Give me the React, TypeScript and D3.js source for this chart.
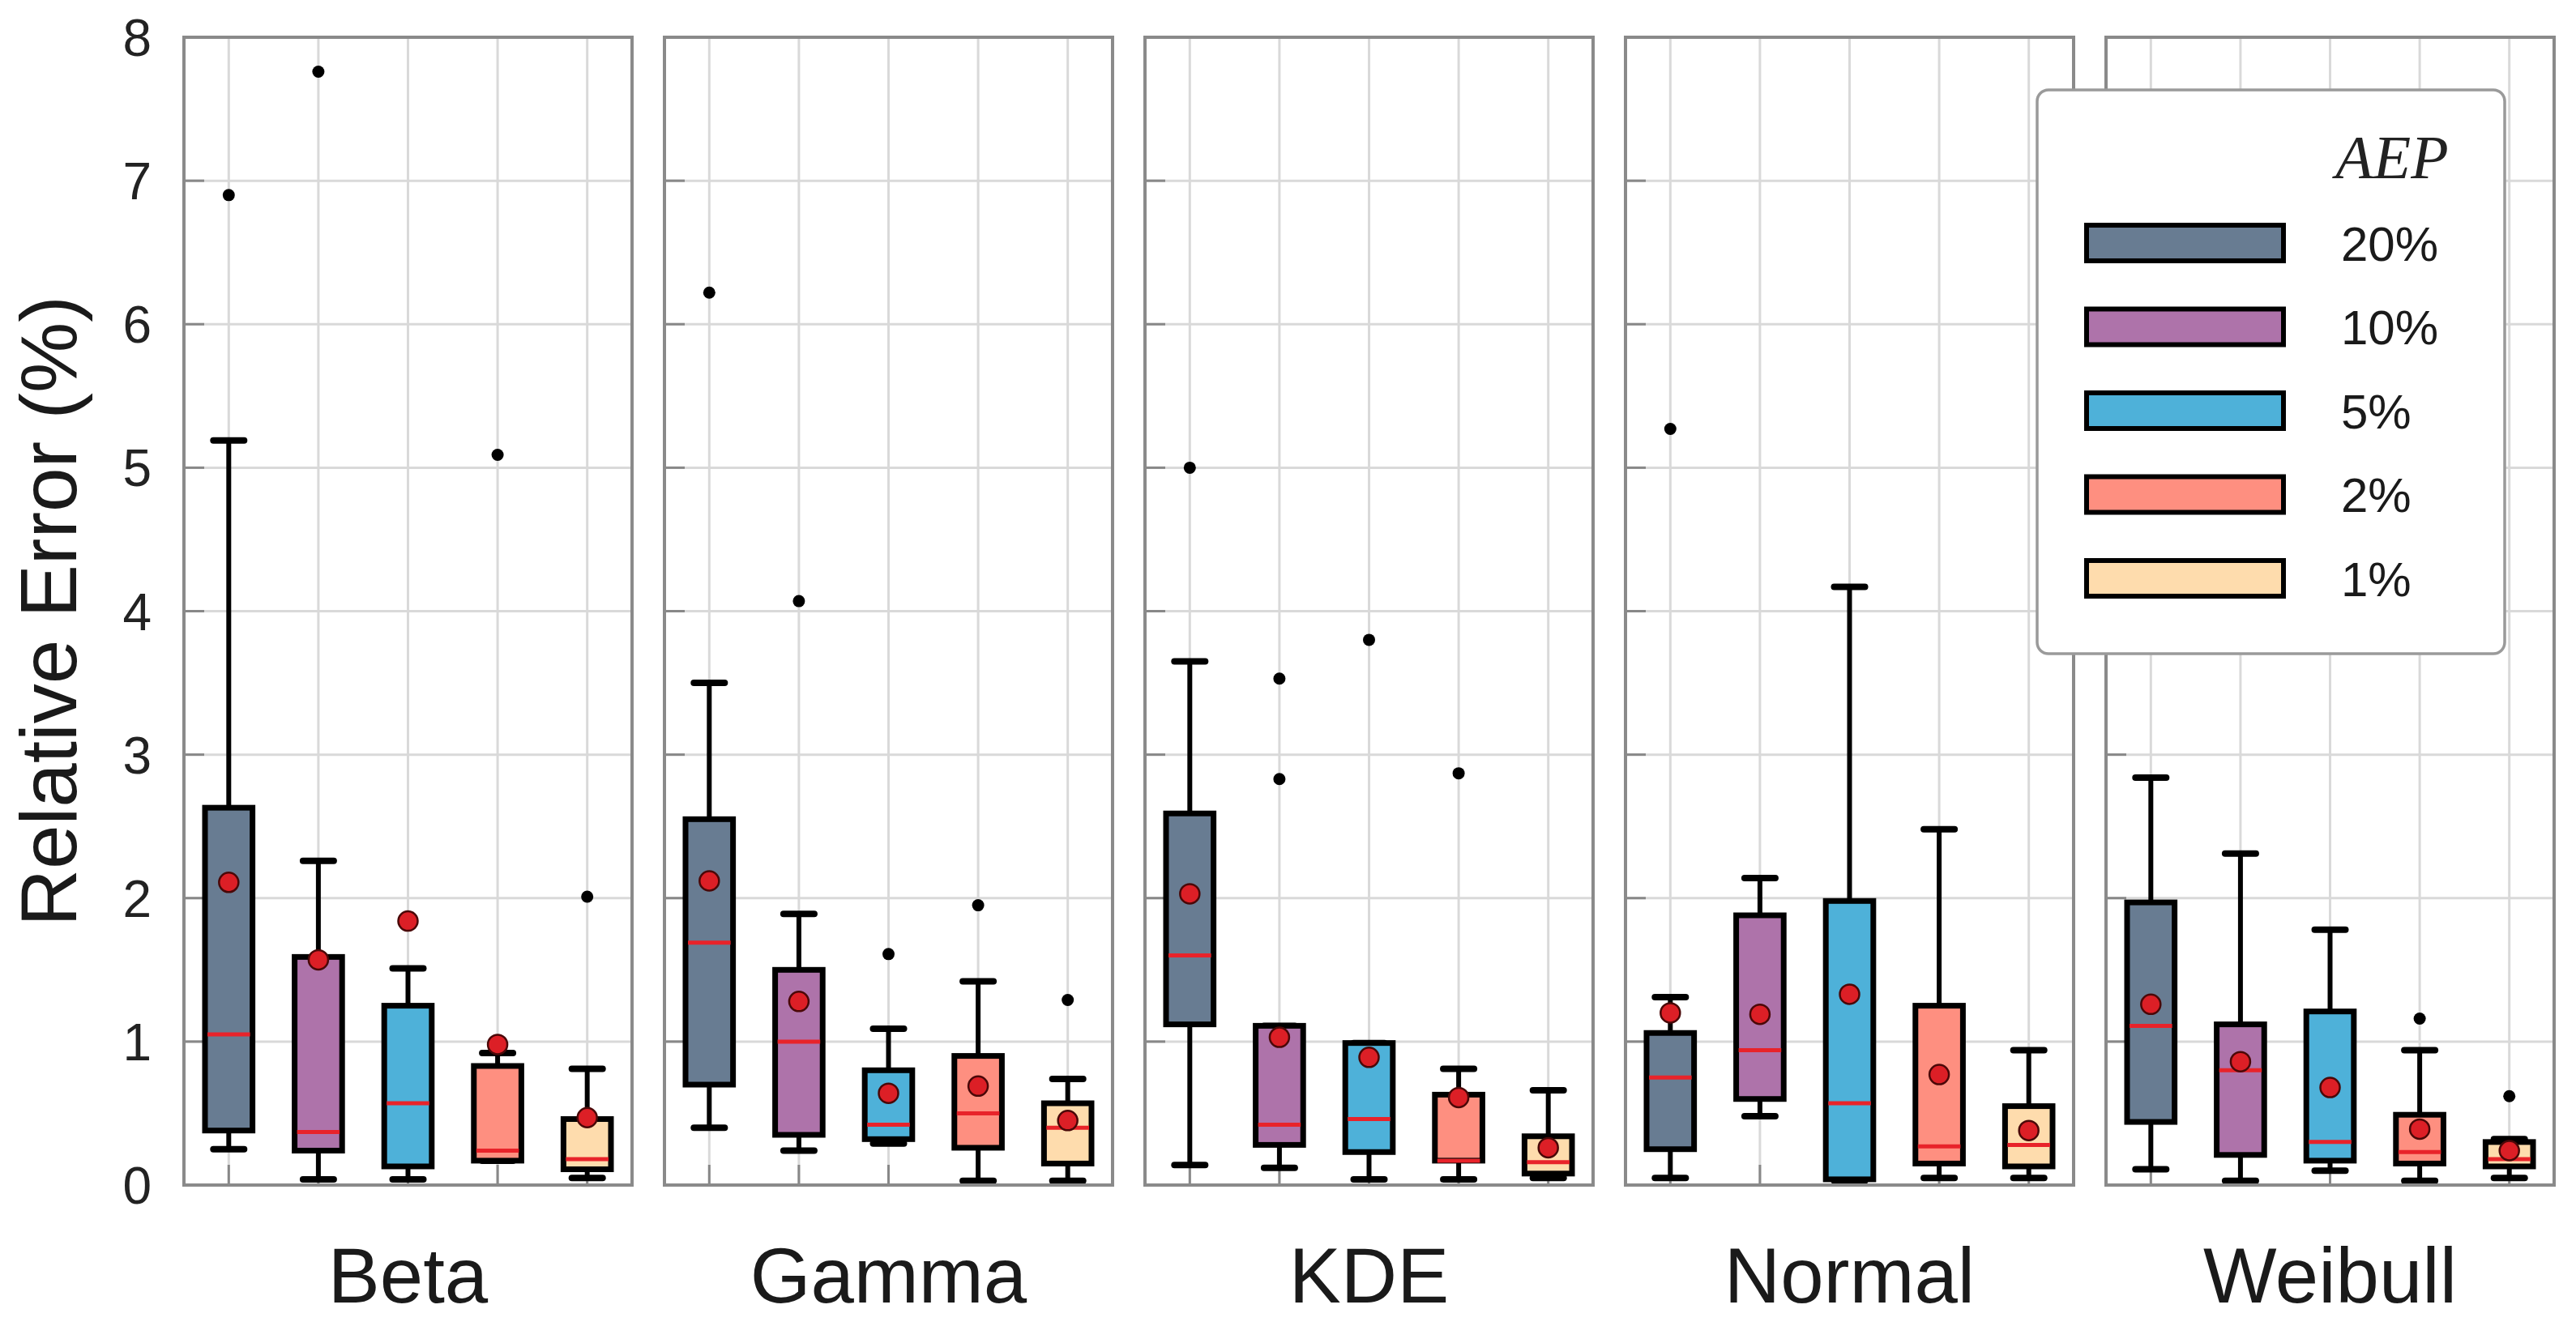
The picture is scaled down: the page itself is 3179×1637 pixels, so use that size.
import React from "react";
import * as d3 from "d3";

// relative error boxplots per fitted distribution, one box per AEP level

const categories = ["Beta", "Gamma", "KDE", "Normal", "Weibull"];
const aepLevels = ["20%", "10%", "5%", "2%", "1%"];
const yTicks = [0, 1, 2, 3, 4, 5, 6, 7, 8];

// rows = categories, columns = aepLevels
const q1 = [
  [0.38, 0.24, 0.13, 0.17, 0.11],
  [0.7, 0.35, 0.32, 0.26, 0.15],
  [1.12, 0.28, 0.23, 0.17, 0.08],
  [0.25, 0.6, 0.04, 0.15, 0.13],
  [0.44, 0.21, 0.17, 0.15, 0.13],
];
const medians = [
  [1.05, 0.37, 0.57, 0.24, 0.18],
  [1.69, 1.0, 0.42, 0.5, 0.4],
  [1.6, 0.42, 0.46, 0.17, 0.16],
  [0.75, 0.94, 0.57, 0.27, 0.28],
  [1.11, 0.8, 0.3, 0.23, 0.18],
];
const q3 = [
  [2.63, 1.59, 1.25, 0.83, 0.46],
  [2.55, 1.5, 0.8, 0.9, 0.57],
  [2.59, 1.11, 0.99, 0.63, 0.34],
  [1.06, 1.88, 1.98, 1.25, 0.55],
  [1.97, 1.12, 1.21, 0.49, 0.3],
];
const whiskerLow = [
  [0.25, 0.04, 0.04, 0.17, 0.05],
  [0.4, 0.24, 0.29, 0.03, 0.03],
  [0.14, 0.12, 0.04, 0.04, 0.05],
  [0.05, 0.48, 0.03, 0.05, 0.05],
  [0.11, 0.03, 0.1, 0.03, 0.05],
];
const whiskerHigh = [
  [5.19, 2.26, 1.51, 0.92, 0.81],
  [3.5, 1.89, 1.09, 1.42, 0.74],
  [3.65, 1.11, 0.99, 0.81, 0.66],
  [1.31, 2.14, 4.17, 2.48, 0.94],
  [2.84, 2.31, 1.78, 0.94, 0.32],
];
const means = [
  [2.11, 1.57, 1.84, 0.98, 0.47],
  [2.12, 1.28, 0.64, 0.69, 0.45],
  [2.03, 1.03, 0.89, 0.61, 0.26],
  [1.2, 1.19, 1.33, 0.77, 0.38],
  [1.26, 0.86, 0.68, 0.39, 0.24],
];
const outliers = [
  [[6.9], [7.76], [], [5.09], [2.01]],
  [[6.22], [4.07], [1.61], [1.95], [1.29]],
  [[5.0], [3.53, 2.83], [3.8], [2.87], []],
  [[5.27], [], [], [], []],
  [[], [], [], [1.16], [0.62]],
];

const colors = ["#687c92", "#ae73aa", "#4eb1d9", "#fe8f80", "#fedcad"];

const FONT = "'Liberation Sans', Arial, Helvetica, sans-serif";

const App: React.FC = () => {
  const width = 3179;
  const height = 1637;
  const marginLeft = 227;
  const marginRight = 27;
  const marginTop = 46;
  const plotBottom = 1463;

  const panel = d3
    .scaleBand<string>()
    .domain(categories)
    .range([marginLeft, width - marginRight])
    .paddingInner(0.0675)
    .paddingOuter(0);
  const pw = panel.bandwidth();

  const inner = d3
    .scaleBand<string>()
    .domain(aepLevels)
    .range([0, pw])
    .paddingInner(0.47)
    .paddingOuter(0.235);
  const bw = inner.bandwidth();
  const capW = 38;

  const y = d3.scaleLinear([0, 8], [plotBottom, marginTop]);

  // legend layout
  const lgX = 2514, lgY = 111, lgW = 577, lgH = 696;
  const lgRow = d3.scalePoint<string>().domain(aepLevels).range([300, 714]);

  return (
    <svg
      width={width}
      height={height}
      style={{ position: "absolute", left: 0, top: 0, background: "#fff" }}
      fontFamily={FONT}
    >
      {categories.map((cat, ci) => {
        const px = panel(cat)!;
        return (
          <g key={cat} transform={`translate(${px},0)`}>
            {/* grid */}
            {yTicks.slice(1, -1).map((t) => (
              <line key={t} x1={0} x2={pw} y1={y(t)} y2={y(t)} stroke="#d9d9d9" strokeWidth={3} />
            ))}
            {aepLevels.map((a) => {
              const cx = inner(a)! + bw / 2;
              return <line key={a} x1={cx} x2={cx} y1={marginTop} y2={plotBottom} stroke="#d9d9d9" strokeWidth={3} />;
            })}
            {/* inward ticks */}
            {yTicks.slice(1, -1).map((t) => (
              <line key={"yt" + t} x1={0} x2={25} y1={y(t)} y2={y(t)} stroke="#888" strokeWidth={3} />
            ))}
            {aepLevels.map((a) => {
              const cx = inner(a)! + bw / 2;
              return <line key={"xt" + a} x1={cx} x2={cx} y1={plotBottom} y2={plotBottom - 25} stroke="#888" strokeWidth={3} />;
            })}

            {/* boxes */}
            {aepLevels.map((a, ai) => {
              const bx = inner(a)!;
              const cx = bx + bw / 2;
              return (
                <g key={"b" + a}>
                  <line x1={cx} x2={cx} y1={y(whiskerLow[ci][ai])} y2={y(q1[ci][ai])} stroke="#000" strokeWidth={6} />
                  <line x1={cx} x2={cx} y1={y(q3[ci][ai])} y2={y(whiskerHigh[ci][ai])} stroke="#000" strokeWidth={6} />
                  <line x1={cx - capW / 2} x2={cx + capW / 2} y1={y(whiskerLow[ci][ai])} y2={y(whiskerLow[ci][ai])} stroke="#000" strokeWidth={8} strokeLinecap="round" />
                  <line x1={cx - capW / 2} x2={cx + capW / 2} y1={y(whiskerHigh[ci][ai])} y2={y(whiskerHigh[ci][ai])} stroke="#000" strokeWidth={8} strokeLinecap="round" />
                  <rect
                    x={bx}
                    y={y(q3[ci][ai])}
                    width={bw}
                    height={y(q1[ci][ai]) - y(q3[ci][ai])}
                    fill={colors[ai]}
                    stroke="#000"
                    strokeWidth={7}
                  />
                  <line x1={bx + 3} x2={bx + bw - 3} y1={y(medians[ci][ai])} y2={y(medians[ci][ai])} stroke="#e8232a" strokeWidth={5} />
                  <circle cx={cx} cy={y(means[ci][ai])} r={12} fill="#dc1f26" stroke="#4a0808" strokeWidth={2.5} />
                  {outliers[ci][ai].map((o, oi) => (
                    <circle key={oi} cx={cx} cy={y(o)} r={7.5} fill="#000" />
                  ))}
                </g>
              );
            })}

            {/* frame */}
            <rect x={0} y={marginTop} width={pw} height={plotBottom - marginTop} fill="none" stroke="#8a8a8a" strokeWidth={4} />

            <text x={pw / 2} y={1608} textAnchor="middle" fontSize={96} fill="#1a1a1a">
              {cat}
            </text>
          </g>
        );
      })}

      {/* y tick labels */}
      {yTicks.map((t) => (
        <text key={t} x={187} y={y(t)} dy="0.36em" textAnchor="end" fontSize={64} fill="#222">
          {t}
        </text>
      ))}
      <text
        transform={`translate(94,${(marginTop + plotBottom) / 2}) rotate(-90)`}
        textAnchor="middle"
        fontSize={98}
        fill="#1a1a1a"
      >
        Relative Error (%)
      </text>

      {/* legend */}
      <g>
        <rect x={lgX} y={lgY} width={lgW} height={lgH} rx={14} fill="#fff" stroke="#9a9a9a" strokeWidth={3.5} />
        <text x={2952} y={220} textAnchor="middle" fontSize={76} fontStyle="italic" fontFamily="'Liberation Serif', 'DejaVu Serif', serif" fill="#222">
          AEP
        </text>
        {aepLevels.map((a, ai) => (
          <g key={a}>
            <rect x={2575} y={lgRow(a)! - 22} width={243} height={44} fill={colors[ai]} stroke="#000" strokeWidth={6} />
            <text x={2889} y={lgRow(a)!} dy="0.36em" fontSize={60} fill="#1a1a1a">
              {a}
            </text>
          </g>
        ))}
      </g>
    </svg>
  );
};

export default App;
